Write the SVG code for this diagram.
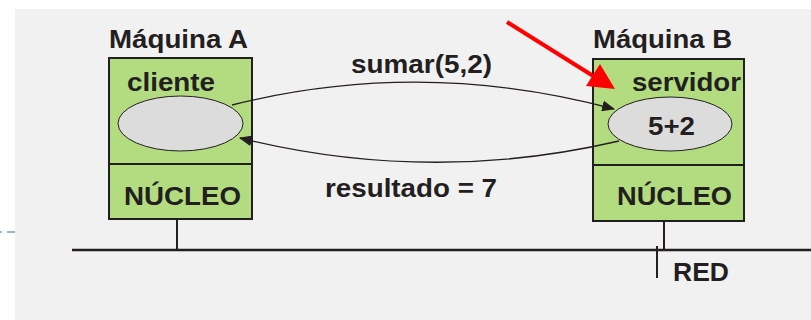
<svg xmlns="http://www.w3.org/2000/svg" width="811" height="320" viewBox="0 0 811 320">
  <defs>
    <style>
      .t { font-family: "Liberation Sans", Arial, sans-serif; font-weight: bold; fill: #231f20; }
      .box { fill: #b3dc80; stroke: #231f20; stroke-width: 2; }
      .proc { fill: #dcdcdc; stroke: #231f20; stroke-width: 1; }
      .wire { fill: none; stroke: #231f20; stroke-width: 2; }
      .call { fill: none; stroke: #231f20; stroke-width: 1.3; marker-end: url(#head); }
    </style>
    <marker id="head" viewBox="0 0 12 10" refX="11" refY="5" markerWidth="13" markerHeight="11" markerUnits="userSpaceOnUse" orient="auto">
      <path d="M0,0 L12,5 L0,10 Z" fill="#231f20"/>
    </marker>
  </defs>

  <!-- page background -->
  <rect x="0" y="0" width="811" height="320" fill="#ffffff"/>
  <rect x="15" y="9" width="796" height="311" fill="#f1f1f1"/>
  <path d="M0,232 H2 M7,232 H15" stroke="#9ab4c8" stroke-width="2"/>

  <!-- network bus -->
  <g id="red">
    <line x1="72" y1="250" x2="811" y2="250" stroke="#231f20" stroke-width="2.7"/>
    <line x1="657" y1="246" x2="657" y2="278" class="wire"/>
    <text class="t" x="673" y="281" font-size="26" textLength="56" lengthAdjust="spacingAndGlyphs">RED</text>
  </g>

  <!-- machine A -->
  <g id="maquina-a">
    <text class="t" x="109" y="48" font-size="25" textLength="139" lengthAdjust="spacingAndGlyphs">Máquina A</text>
    <rect class="box" x="109" y="58" width="143" height="161"/>
    <line class="wire" x1="109" y1="164" x2="252" y2="164"/>
    <text class="t" x="127" y="91" font-size="26" textLength="88" lengthAdjust="spacingAndGlyphs">cliente</text>
    <ellipse class="proc" cx="180.5" cy="123.5" rx="62.5" ry="27.5"/>
    <text class="t" x="124" y="205" font-size="26" textLength="117" lengthAdjust="spacingAndGlyphs">NÚCLEO</text>
    <line class="wire" x1="177" y1="219" x2="177" y2="250"/>
  </g>

  <!-- machine B -->
  <g id="maquina-b">
    <text class="t" x="593" y="48" font-size="25" textLength="139" lengthAdjust="spacingAndGlyphs">Máquina B</text>
    <rect class="box" x="593" y="59" width="151" height="162"/>
    <line class="wire" x1="593" y1="165" x2="744" y2="165"/>
    <text class="t" x="632" y="91" font-size="26" textLength="109" lengthAdjust="spacingAndGlyphs">servidor</text>
    <ellipse class="proc" cx="670" cy="124" rx="62" ry="27"/>
    <text class="t" x="648" y="135" font-size="26" textLength="47" lengthAdjust="spacingAndGlyphs">5+2</text>
    <text class="t" x="617" y="205" font-size="26" textLength="115" lengthAdjust="spacingAndGlyphs">NÚCLEO</text>
    <line class="wire" x1="664" y1="221" x2="664" y2="250"/>
  </g>

  <!-- request / reply connectors -->
  <g id="connectors">
    <path class="call" d="M232,105 Q422,57.5 614,109"/>
    <text class="t" x="351" y="73" font-size="26" textLength="141" lengthAdjust="spacingAndGlyphs">sumar(5,2)</text>
    <path class="call" d="M619,141 Q430,185 240,138"/>
    <text class="t" x="325" y="197" font-size="26" textLength="172" lengthAdjust="spacingAndGlyphs">resultado = 7</text>
  </g>

  <!-- highlight pointer -->
  <g id="puntero">
    <line x1="507" y1="22" x2="598" y2="79" stroke="#ff0000" stroke-width="4"/>
    <path d="M615,89 L600,64 L586,86 Z" fill="#ff0000"/>
  </g>
</svg>
